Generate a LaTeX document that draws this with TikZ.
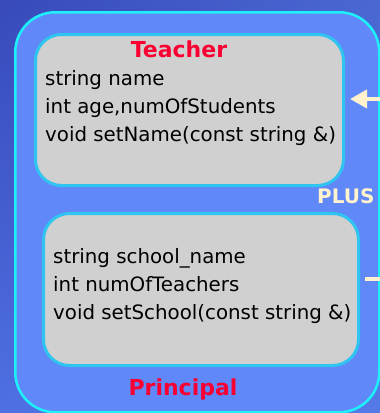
\documentclass[tikz,border=0pt]{standalone}
\usepackage{fontspec}
\setmainfont{DejaVu Sans}
\usetikzlibrary{arrows.meta,shadings}

\definecolor{bgUL}{RGB}{56,74,186}
\definecolor{bgUR}{RGB}{74,104,210}
\definecolor{bgLL}{RGB}{78,112,226}
\definecolor{bgLR}{RGB}{84,122,232}
\definecolor{panelfill}{RGB}{96,136,248}
\definecolor{panelrim}{RGB}{30,240,250}
\definecolor{classfill}{RGB}{208,208,208}
\definecolor{classrim}{RGB}{48,196,240}
\definecolor{titlered}{RGB}{250,0,50}
\definecolor{cream}{RGB}{255,242,204}

\tikzset{
  panel/.style={draw=panelrim, line width=2.5pt, fill=panelfill,
    rounded corners=40pt, anchor=north west, inner sep=0pt},
  classbox/.style={draw=classrim, line width=3pt, fill=classfill,
    rounded corners=26pt, anchor=north west, inner sep=0pt},
  member/.style={anchor=base west, inner sep=0pt, text=black,
    font=\fontsize{19.8}{28}\selectfont},
  classname/.style={anchor=base, inner sep=0pt, text=titlered,
    font=\fontsize{22}{28}\selectfont\bfseries},
  tag/.style={anchor=base west, inner sep=0pt, text=cream,
    font=\fontsize{20}{24}\selectfont\bfseries},
  link/.style={draw=cream, line width=4pt},
}

\begin{document}
\begin{tikzpicture}[x=1pt, y=-1pt]
  \useasboundingbox (0,0) rectangle (380,413);

  % backdrop
  \shade[upper left=bgUL, upper right=bgUR, lower left=bgLL, lower right=bgLR]
    (0,0) rectangle (380,413);

  % enclosing class panel
  \node[panel, minimum width=364pt, minimum height=400pt] (plus) at (14,11) {};

  % Teacher class
  \node[classbox, minimum width=308pt, minimum height=151pt] (teacher) at (34,33) {};
  \node[classname] (tname) at (179,57) {Teacher};
  \node[member] (t1) at (45,85)  {string name};
  \node[member] (t2) at (45,113) {int age,numOfStudents};
  \node[member] (t3) at (45,141) {void setName(const string \&)};

  % Principal members
  \node[classbox, minimum width=315pt, minimum height=152pt] (principal) at (42,212) {};
  \node[member] (p1) at (53,263) {string school\_name};
  \node[member] (p2) at (53,291) {int numOfTeachers};
  \node[member] (p3) at (53,319) {void setSchool(const string \&)};
  \node[classname] (pname) at (183,395) {Principal};

  % panel label
  \node[tag] (plustag) at (317,203) {PLUS};

  % incoming arrow to Teacher
  \coordinate (arrowin) at (382,99);
  \draw[link, -{Triangle[length=17pt, width=18pt]}, shorten >=5pt]
    (arrowin) -- (teacher.east |- arrowin);

  % outgoing stub from Principal
  \coordinate (stubout) at (382,279);
  \draw[link, shorten >=5pt] (stubout) -- (principal.east |- stubout);
\end{tikzpicture}
\end{document}
